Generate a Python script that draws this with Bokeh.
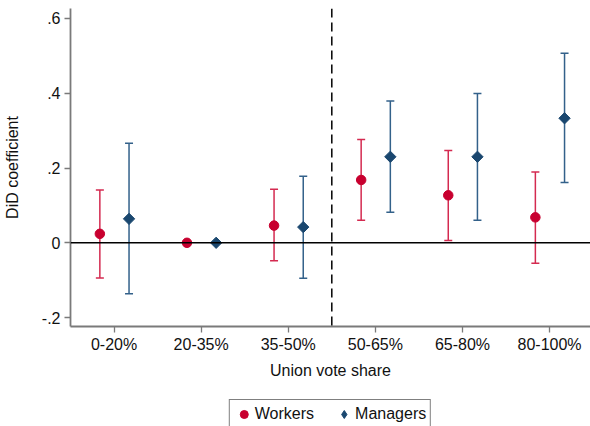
import math
import numpy as np
from bokeh.plotting import figure
from bokeh.layouts import column
from bokeh.models import (ColumnDataSource, Range1d, FixedTicker, Span, Whisker,
                          TeeHead, Legend, LegendItem)
from bokeh.embed import file_html
from bokeh.resources import INLINE

# Union vote share bins and DiD estimates with 95% confidence bounds
categories = ["0-20%", "20-35%", "35-50%", "50-65%", "65-80%", "80-100%"]

workers_coef = [0.024, 0.0, 0.046, 0.168, 0.127, 0.068]
workers_lo = [-0.094, np.nan, -0.048, 0.060, 0.006, -0.055]
workers_hi = [0.141, np.nan, 0.143, 0.276, 0.247, 0.189]

managers_coef = [0.064, 0.0, 0.042, 0.230, 0.230, 0.333]
managers_lo = [-0.136, np.nan, -0.095, 0.082, 0.060, 0.161]
managers_hi = [0.266, np.nan, 0.178, 0.379, 0.399, 0.507]

y_ticks = [-0.2, 0, 0.2, 0.4, 0.6]
y_tick_labels = ["-.2", "0", ".2", ".4", ".6"]

FONT = "Liberation Sans"
RED, RED_BAR = "#c8002f", "#d42a50"
BLUE, BLUE_BAR = "#1a476f", "#33618a"

pos = np.arange(1, len(categories) + 1)
w_x = pos - 0.163
m_x = pos + 0.172


def bars(x, lo, hi):
    lo, hi = np.asarray(lo, float), np.asarray(hi, float)
    keep = ~np.isnan(lo)
    return ColumnDataSource(dict(x=x[keep], lo=lo[keep], hi=hi[keep]))


p = figure(width=590, height=399, output_backend="svg", toolbar_location=None,
           x_range=Range1d(0.5, 6.47), y_range=Range1d(-0.2238, 0.6265),
           min_border_left=70, min_border_right=0, min_border_top=8,
           min_border_bottom=73)
p.outline_line_color = None
p.xgrid.visible = False
p.ygrid.visible = False
p.background_fill_color = "white"
p.border_fill_color = "white"

# reference lines
p.add_layout(Span(location=0, dimension="width", line_color="black", line_width=1.5))
p.add_layout(Span(location=3.5, dimension="height", line_color="black",
                  line_width=1.5, line_dash="9 5"))

# confidence intervals
for src, col in ((bars(w_x, workers_lo, workers_hi), RED_BAR),
                 (bars(m_x, managers_lo, managers_hi), BLUE_BAR)):
    p.add_layout(Whisker(source=src, base="x", lower="lo", upper="hi",
                         dimension="height", line_color=col, line_width=1.5,
                         lower_head=TeeHead(size=8, line_color=col, line_width=1.5),
                         upper_head=TeeHead(size=8, line_color=col, line_width=1.5)))

p.scatter(w_x, workers_coef, marker="circle", size=9.5,
          fill_color=RED, line_color=RED)
p.scatter(m_x, managers_coef, marker="square", angle=math.pi / 4, size=8,
          fill_color=BLUE, line_color=BLUE)

# axes
AX = "#7a7a7a"
for ax in (p.xaxis[0], p.yaxis[0]):
    ax.axis_line_color = AX
    ax.axis_line_width = 1.8
    ax.major_tick_line_color = AX
    ax.major_tick_line_width = 1.3
    ax.major_tick_out = 6
    ax.major_tick_in = 0
    ax.minor_tick_line_color = None
    ax.major_label_text_font = FONT
    ax.major_label_text_font_size = "16px"
    ax.major_label_text_color = "#111111"
    ax.axis_label_text_font = FONT
    ax.axis_label_text_font_size = "16px"
    ax.axis_label_text_font_style = "normal"
    ax.axis_label_text_color = "#111111"

p.xaxis.ticker = FixedTicker(ticks=list(pos))
p.xaxis.major_label_overrides = {int(i): c for i, c in zip(pos, categories)}
p.xaxis.major_label_standoff = 3
p.xaxis.axis_label = "Union vote share"
p.xaxis.axis_label_standoff = 6

p.yaxis.ticker = FixedTicker(ticks=y_ticks)
p.yaxis.major_label_overrides = {t: s for t, s in zip(y_ticks, y_tick_labels)}
p.yaxis.major_label_orientation = "horizontal"
p.yaxis.major_label_standoff = 4
p.yaxis.axis_label = "DiD coefficient"
p.yaxis.axis_label_standoff = 18

# legend strip underneath the chart; its key glyphs carry the series data
# but the strip's ranges keep the points themselves out of view
leg = figure(width=590, height=27, output_backend="svg", toolbar_location=None,
             x_range=Range1d(-3, -2), y_range=Range1d(-3, -2),
             x_axis_type=None, y_axis_type=None,
             min_border_left=70, min_border_right=0, min_border_top=0,
             min_border_bottom=0)
leg.outline_line_color = None
leg.xgrid.visible = False
leg.ygrid.visible = False
leg.border_fill_color = "white"

k_w = leg.scatter(w_x, workers_coef, marker="circle",
                  fill_color=RED, line_color=RED)
k_m = leg.scatter(m_x, managers_coef, marker="diamond",
                  fill_color=BLUE, line_color=BLUE)

legend = Legend(items=[LegendItem(label="Workers", renderers=[k_w]),
                       LegendItem(label="Managers", renderers=[k_m])],
                orientation="horizontal", location="top_center",
                border_line_color="black", border_line_width=1,
                background_fill_color="white", background_fill_alpha=1,
                label_text_font=FONT, label_text_font_size="16px",
                label_text_color="#111111",
                glyph_width=20, glyph_height=20, label_standoff=1,
                spacing=20, padding=4, margin=0)
leg.add_layout(legend, "center")

open("out.html", "w").write(file_html(column(p, leg, spacing=0), INLINE))
